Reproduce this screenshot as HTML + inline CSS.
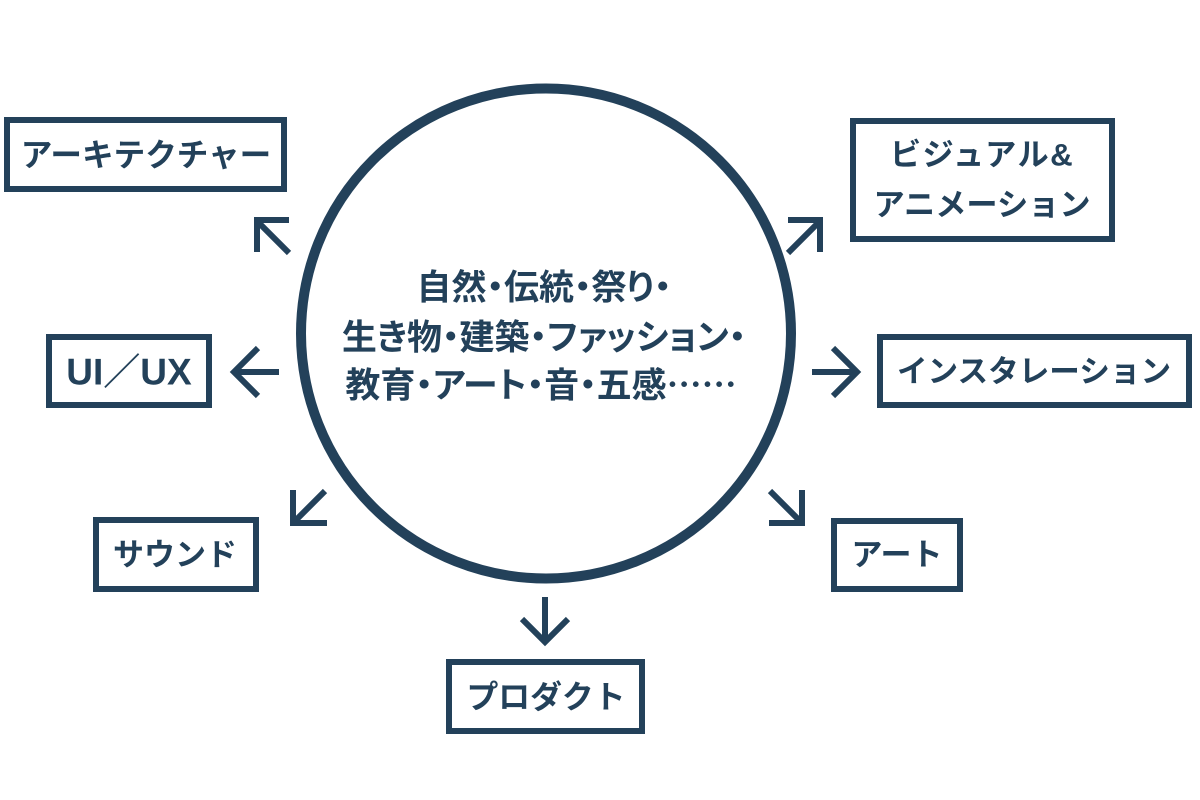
<!DOCTYPE html>
<html><head><meta charset="utf-8">
<style>
html,body{margin:0;padding:0;background:#fff;}
svg{display:block;}
text{font-family:"Liberation Sans","Noto Sans CJK JP",sans-serif;font-weight:700;fill:#23415a;}
.c{font-family:"Noto Sans CJK JP",sans-serif;font-feature-settings:"palt" 1;}
</style></head>
<body>
<svg width="1200" height="800" viewBox="0 0 1200 800" xmlns="http://www.w3.org/2000/svg">
<rect width="1200" height="800" fill="#fff"/>
<g fill="none" stroke="#23415a" stroke-width="6" stroke-linejoin="miter" stroke-linecap="butt">
  <circle cx="546" cy="333.5" r="245" stroke-width="10"/>
  <rect x="7" y="120" width="277" height="69"/>
  <rect x="49" y="337" width="160" height="68"/>
  <rect x="96" y="520" width="160" height="69"/>
  <rect x="449" y="662" width="193" height="69"/>
  <rect x="834" y="521" width="126" height="68"/>
  <rect x="880" y="337" width="309" height="68"/>
  <rect x="853" y="121" width="259" height="118"/>
  <line x1="289" y1="253" x2="258" y2="222"/>
  <polyline points="289,220 257,220 257,252"/>
  <line x1="788" y1="253" x2="819" y2="222"/>
  <polyline points="788,220 820,220 820,252"/>
  <line x1="325" y1="491" x2="295" y2="521"/>
  <polyline points="293,490 293,523 327,523"/>
  <line x1="770" y1="491" x2="800" y2="521"/>
  <polyline points="802,490 802,523 769,523"/>
  <line x1="279" y1="372" x2="236" y2="372"/>
  <polyline points="258,348 234,372 258,396"/>
  <line x1="812" y1="372" x2="855" y2="372"/>
  <polyline points="833,348 857,372 833,396"/>
  <line x1="545" y1="597" x2="545" y2="640"/>
  <polyline points="522,619 545,642 568,619"/>
</g>
<g text-anchor="middle" dominant-baseline="central">
  <text x="146" y="155" font-size="31.6">アーキテクチャー</text>
  <text x="129" y="372" font-size="37">UI／UX</text>
  <text x="175" y="555" font-size="31">サウンド</text>
  <text x="546" y="697" font-size="31.8">プロダクト</text>
  <text x="897" y="555" font-size="31">アート</text>
  <text x="1034" y="372" font-size="30.6">インスタレーション</text>
  <text x="982" y="155" font-size="31.2" letter-spacing="1.5">ビジュアル&amp;</text>
  <text x="982" y="205" font-size="31.2">アニメーション</text>
</g>
<g class="c" font-size="35" text-anchor="middle" dominant-baseline="central">
  <text class="c" x="544" y="285">自然・伝統・祭り・</text>
  <text class="c" x="544" y="335">生き物・建築・ファッション・</text>
  <text class="c" x="541" y="383">教育・アート・音・五感……</text>
</g>
</svg>
</body></html>
